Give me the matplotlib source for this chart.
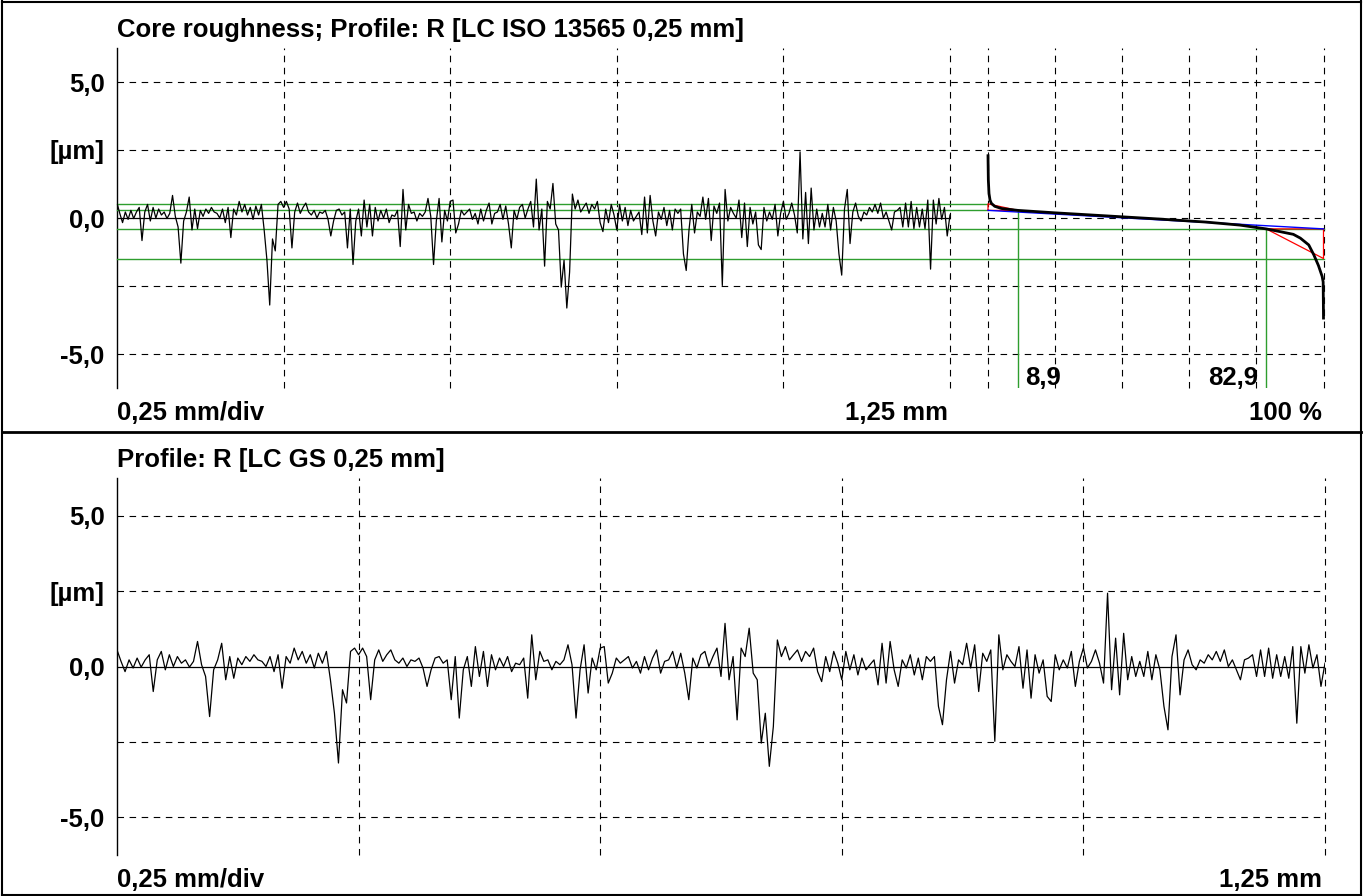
import numpy as np
import matplotlib
matplotlib.use('Agg')
import matplotlib.pyplot as plt
from matplotlib.lines import Line2D

plt.rcParams['font.family'] = ['Liberation Sans', 'DejaVu Sans']
plt.rcParams['font.weight'] = 'bold'
plt.rcParams['font.size'] = 18.5
plt.rcParams['lines.scale_dashes'] = False

# ---- data ----
length_mm = 1.25
# profile heights in µm, equally spaced over 1.25 mm
profile = [
    0.55, 0.17, -0.17, 0.22, -0.05, 0.28, -0.02, 0.22, 0.39, -0.83,
    0.22, 0.50, -0.11, 0.39, 0.00, 0.33, 0.11, 0.22, -0.02, 0.17,
    0.83, 0.06, -0.33, -1.66, -0.11, 0.22, 0.77, -0.44, 0.33, -0.39,
    0.28, 0.06, 0.33, 0.17, 0.39, 0.22, 0.17, 0.00, 0.33, -0.17,
    0.39, -0.72, 0.33, 0.11, 0.61, 0.22, 0.50, 0.11, 0.39, -0.05,
    0.44, 0.11, 0.50, -0.44, -1.55, -3.20, -0.77, -1.21, 0.50, 0.61,
    0.39, 0.61, 0.33, -1.10, 0.22, 0.55, 0.17, 0.39, 0.55, 0.22,
    0.11, 0.28, 0.00, 0.22, 0.17, 0.28, -0.05, -0.66, -0.11, 0.28,
    0.33, 0.11, 0.22, -1.10, 0.33, -1.71, -0.11, 0.33, -0.66, 0.66,
    -0.33, 0.50, -0.66, 0.39, -0.11, 0.28, 0.00, 0.33, -0.17, 0.11,
    0.06, 0.28, -1.05, 1.05, -0.44, 0.50, 0.17, 0.22, -0.11, 0.17,
    0.06, 0.22, 0.72, 0.06, -1.71, -0.11, 0.72, -0.88, 0.28, -0.11,
    0.61, 0.66, -0.55, -0.22, 0.28, 0.11, 0.22, 0.33, -0.05, 0.17,
    -0.22, 0.33, -0.11, 0.28, 0.55, -0.22, 0.17, 0.22, 0.50, -0.05,
    0.44, -0.22, -1.10, 0.28, -0.05, 0.39, 0.50, 0.00, 0.33, 0.61,
    -0.33, 1.43, -0.44, 0.33, -1.77, 0.61, 0.33, 1.27, -0.22, -0.44,
    -2.54, -1.55, -3.31, -1.99, 0.88, 0.33, 0.66, 0.22, 0.39, 0.55,
    0.17, 0.50, 0.33, 0.61, -0.17, -0.50, 0.33, -0.17, 0.50, 0.11,
    -0.44, 0.50, -0.11, 0.39, -0.28, 0.28, -0.11, 0.06, 0.22, -0.61,
    0.77, -0.55, 0.83, -0.11, -0.66, 0.22, -0.05, 0.39, -0.28, 0.28,
    -0.44, 0.33, 0.17, 0.33, -1.32, -1.93, -0.44, 0.50, -0.55, 0.22,
    0.06, 0.77, -0.05, 0.72, -0.83, 0.44, 0.17, 0.55, -2.48, 1.05,
    -0.11, 0.39, 0.17, 0.00, 0.66, -0.72, 0.55, -1.05, 0.39, -0.22,
    0.22, -0.99, -1.16, 0.39, -0.11, 0.22, -0.05, 0.50, -0.66, 0.17,
    0.61, -0.05, 0.17, 0.55, 0.11, -0.55, 2.43, -0.77, 0.94, -0.94,
    1.10, -0.44, 0.33, -0.33, 0.17, -0.33, 0.50, -0.44, 0.39, -0.11,
    -1.32, -2.10, 0.33, 1.05, -0.94, 0.22, 0.55, 0.06, -0.11, 0.22,
    0.11, 0.39, 0.22, 0.50, 0.17, 0.55, 0.00, 0.22, -0.11, -0.44,
    0.22, 0.28, 0.39, -0.33, 0.55, -0.33, 0.61, -0.39, 0.39, -0.33,
    0.33, -0.39, 0.66, -1.88, 0.66, -0.22, 0.72, -0.05, 0.39, -0.66,
    0.11,
]

# material ratio (Abbott) curve: ratio in %, height in µm
abbott_pct = [0, 0.1, 0.3, 0.6, 1.0, 2.0, 4.0, 8.9, 20, 35, 50, 65, 75, 82.9,
              87, 91, 93.1, 95.6, 97.1, 98.5, 99.6, 99.9, 100]
abbott_h = [2.29, 1.4, 0.9, 0.66, 0.54, 0.43, 0.35, 0.28, 0.19, 0.08, -0.03,
            -0.15, -0.26, -0.40, -0.5, -0.6, -0.74, -0.99, -1.35, -1.75,
            -2.15, -2.35, -3.68]

# core roughness parameters
rpk_top = 0.52
sk_top = 0.28
sk_bot = -0.40
rvk_bot = -1.49
mr1 = 8.9
mr2 = 82.9

ytick_vals = [5, 2.5, 0, -5]
ytick_text = ['5,0', '[µm]', '0,0', '-5,0']
hgrid = [5, 2.5, -2.5, -5]
xgrid_mm = [0.25, 0.5, 0.75, 1.0, 1.25]
xgrid_pct = [0, 20, 40, 60, 80, 100]

W, H = 1370, 896
fig = plt.figure(figsize=(W / 100, H / 100), dpi=100)


def rect(l, t, r, b):
    return [l / W, 1 - b / H, (r - l) / W, (b - t) / H]


dash = (0, (4.7, 4.0))
GREEN = '#2e9e2e'

ax1 = fig.add_axes(rect(117, 48, 950, 388))
ax2 = fig.add_axes(rect(988, 48, 1323.5, 388))
ax3 = fig.add_axes(rect(117, 478, 1325, 855))

x_prof = np.linspace(0, length_mm, len(profile))

for ax in (ax1, ax3):
    ax.set_xlim(0, length_mm)
    ax.set_ylim(-6.25, 6.25)
    for s in ('top', 'right', 'bottom'):
        ax.spines[s].set_visible(False)
    ax.spines['left'].set_linewidth(1.0)
    ax.set_xticks([])
    ax.set_yticks(ytick_vals)
    ax.set_yticklabels(ytick_text)
    ax.tick_params(axis='y', length=0, pad=9)
    for v in xgrid_mm:
        ax.axvline(v, color='k', lw=0.8, ls=dash, zorder=1, clip_on=False)
    ax.axhline(0, color='k', lw=0.9, zorder=2)
    ax.plot(x_prof, profile, color='k', lw=0.9, zorder=4)

# horizontal grid of top panel runs on into the Abbott part
gap_frac = (988 - 117) / (950 - 117)
for v in hgrid:
    ax1.axhline(v, xmin=0, xmax=gap_frac, color='k', lw=0.8, ls=dash,
                clip_on=False, zorder=1)
    ax3.axhline(v, color='k', lw=0.8, ls=dash, zorder=1)

for v in (rpk_top, sk_top, sk_bot, rvk_bot):
    ax1.axhline(v, xmin=0, xmax=gap_frac, color=GREEN, lw=1.0,
                clip_on=False, zorder=3)

# Abbott panel
ax2.set_xlim(0, 100)
ax2.set_ylim(-6.25, 6.25)
ax2.axis('off')
for v in xgrid_pct:
    ax2.axvline(v, color='k', lw=0.8, ls=dash, zorder=1, clip_on=False)
for v in hgrid + [0]:
    ax2.axhline(v, color='k', lw=0.8, ls=dash, zorder=1)
for v in (sk_bot, rvk_bot):
    ax2.plot([0, 100], [v, v], color=GREEN, lw=1.0, zorder=3, clip_on=False)
ax2.plot([mr1, mr1], [sk_top, -6.25], color=GREEN, lw=1.0, zorder=3)
ax2.plot([mr2, mr2], [sk_bot, -6.25], color=GREEN, lw=1.0, zorder=3)
ax2.plot([0, 0, mr1, 0], [sk_top, rpk_top, sk_top, sk_top], color='red',
         lw=0.9, zorder=4, clip_on=False)
ax2.plot([mr2, 100, 100, mr2], [sk_bot, rvk_bot, sk_bot, sk_bot], color='red',
         lw=0.9, zorder=4, clip_on=False)
ax2.plot([0, 100], [sk_top, sk_bot], color='blue', lw=1.0, zorder=5,
         clip_on=False)
ax2.plot(abbott_pct, abbott_h, color='k', lw=2.0, zorder=6, clip_on=False)
ax2.annotate('8,9', xy=(mr1, 0), xycoords=('data', 'axes fraction'),
             xytext=(5, 2), textcoords='offset points', ha='left',
             va='baseline')
ax2.annotate('82,9', xy=(mr2, 0), xycoords=('data', 'axes fraction'),
             xytext=(-6, 2), textcoords='offset points', ha='right',
             va='baseline')


def ftext(x, y, s, ha='left'):
    fig.text(x / W, 1 - y / H, s, ha=ha, va='baseline')


ftext(117, 37, 'Core roughness; Profile: R [LC ISO 13565 0,25 mm]')
ftext(117, 420, '0,25 mm/div')
ftext(948, 420, '1,25 mm', ha='right')
ftext(1322, 420, '100 %', ha='right')
ftext(117, 467, 'Profile: R [LC GS 0,25 mm]')
ftext(117, 887, '0,25 mm/div')
ftext(1322, 887, '1,25 mm', ha='right')

# frame and separator
frame = [([2, 2], [0, H], 1.5), ([1361, 1361], [0, H], 1.5),
         ([2, 1361], [2, 2], 1.5), ([2, 1361], [432, 432], 2.0),
         ([2, 1361], [895, 895], 1.5)]
for xs, ys, lw in frame:
    fig.add_artist(Line2D([x / W for x in xs], [1 - y / H for y in ys],
                          color='k', lw=lw))

fig.savefig('out.png', dpi=100)
